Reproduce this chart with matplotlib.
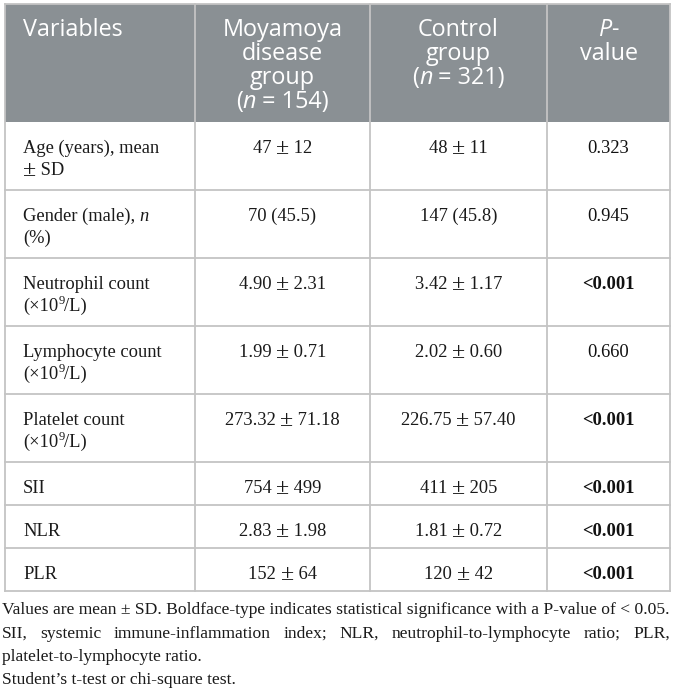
import re
import matplotlib
matplotlib.use("Agg")
import matplotlib.pyplot as plt

# table content
headers = ["Variables", "Moyamoya\ndisease\ngroup\n(<i>n</i> = 154)",
           "Control\ngroup\n(<i>n</i> = 321)", "<i>P</i>-\nvalue"]
variables = ["Age (years), mean\n± SD", "Gender (male), <i>n</i>\n(%)",
             "Neutrophil count\n(×10<sup>9</sup>/L)", "Lymphocyte count\n(×10<sup>9</sup>/L)",
             "Platelet count\n(×10<sup>9</sup>/L)", "SII", "NLR", "PLR"]
moyamoya = ["47 ± 12", "70 (45.5)", "4.90 ± 2.31", "1.99 ± 0.71",
            "273.32 ± 71.18", "754 ± 499", "2.83 ± 1.98", "152 ± 64"]
control = ["48 ± 11", "147 (45.8)", "3.42 ± 1.17", "2.02 ± 0.60",
           "226.75 ± 57.40", "411 ± 205", "1.81 ± 0.72", "120 ± 42"]
p_values = ["0.323", "0.945", "<0.001", "0.660", "<0.001", "<0.001", "<0.001", "<0.001"]
notes = ["Values are mean ± SD. Boldface-type indicates statistical significance with a P-value of < 0.05.",
         "SII, systemic immune-inflammation index; NLR, neutrophil-to-lymphocyte ratio; PLR, platelet-to-lymphocyte ratio.",
         "Student’s t-test or chi-square test."]

W, H = 674, 698
fig = plt.figure(figsize=(W / 100, H / 100), dpi=100)
ax = fig.add_axes([0, 0, 1, 1])
ax.set_xlim(0, W)
ax.set_ylim(H, 0)
ax.axis("off")
renderer = fig.canvas.get_renderer()

HEAD_FONT = "Open Sans"
BODY_FONT = "Liberation Serif"
HEAD_SIZE = 16.8
BODY_SIZE = 13.3
NOTE_SIZE = 12.6
HEAD_BG = "#8a9094"
GRID = "#c4c4c4"

col_x = [5, 195, 370, 547, 670]
top = 4
head_h = 118


def style_kw(family, size, style):
    kw = dict(family=family, fontsize=size)
    if "i" in style:
        kw["style"] = "italic"
    if "b" in style:
        kw["weight"] = "bold"
    if "sup" in style:
        kw["fontsize"] = size * 0.68
    if "pm" in style:
        kw["fontsize"] = size * 1.3
    return kw


def parse(line, bold=False):
    runs = []
    for part in re.split(r"(<i>.*?</i>|<sup>.*?</sup>|<pm>.*?</pm>)", line):
        if not part:
            continue
        m = re.match(r"<(i|sup|pm)>(.*?)</\1>", part)
        st = m.group(1) if m else ""
        txt = m.group(2) if m else part
        if bold:
            st += "b"
        runs.append((txt, st))
    return runs


def width(s, kw):
    t = ax.text(0, 0, "x" + s + "x", **kw)
    w1 = t.get_window_extent(renderer).width
    t.remove()
    t = ax.text(0, 0, "xx", **kw)
    w2 = t.get_window_extent(renderer).width
    t.remove()
    return w1 - w2


def draw_line(line, x, y, family, size, color, align="left", bold=False):
    # the plus-minus sign is set larger in the source (math font)
    if family == BODY_FONT:
        line = line.replace("±", "<pm>±</pm>")
    runs = parse(line, bold)
    widths = [width(txt, style_kw(family, size, st)) for txt, st in runs]
    total = sum(widths)
    if align == "center":
        x = x - total / 2
    for (txt, st), w in zip(runs, widths):
        kw = style_kw(family, size, st)
        yy = y - size * 0.55 if "sup" in st else y
        if "pm" in st:
            yy = y + size * 0.08
        ax.text(x, yy, txt, color=color, va="baseline", ha="left", **kw)
        x += w


# header
ax.add_patch(plt.Rectangle((col_x[0], top), col_x[-1] - col_x[0], head_h,
                           facecolor=HEAD_BG, edgecolor="none", zorder=0))
for j, h in enumerate(headers):
    for k, line in enumerate(h.split("\n")):
        y = top + 32 + 24 * k
        if j == 0:
            draw_line(line, col_x[0] + 18, y, HEAD_FONT, HEAD_SIZE, "white")
        else:
            draw_line(line, (col_x[j] + col_x[j + 1]) / 2, y, HEAD_FONT, HEAD_SIZE,
                      "white", align="center")

# body rows
y0 = top + head_h
row_lines = [y0]
for i, var in enumerate(variables):
    nlines = len(var.split("\n"))
    rh = 43 + 25 * (nlines - 1)
    base = y0 + 31
    for k, line in enumerate(var.split("\n")):
        draw_line(line, col_x[0] + 18, base + 22 * k, BODY_FONT, BODY_SIZE, "#1a1a1a")
    for j, val in enumerate([moyamoya[i], control[i]]):
        draw_line(val, (col_x[j + 1] + col_x[j + 2]) / 2, base, BODY_FONT, BODY_SIZE,
                  "#1a1a1a", align="center")
    p = p_values[i]
    sig = p.startswith("<") or float(p) < 0.05
    draw_line(p, (col_x[3] + col_x[4]) / 2, base, BODY_FONT, BODY_SIZE, "#111111",
              align="center", bold=sig)
    y0 += rh
    row_lines.append(y0)

# grid lines
for y in row_lines[1:]:
    ax.plot([col_x[0], col_x[-1]], [y, y], color=GRID, lw=1.3, zorder=3)
for x in col_x:
    ax.plot([x, x], [top, row_lines[-1]], color=GRID, lw=1.3, zorder=3)
ax.plot([col_x[0], col_x[-1]], [top, top], color=GRID, lw=1.3, zorder=3)

# footnotes, justified like the source
note_kw = dict(family=BODY_FONT, fontsize=NOTE_SIZE)
left, right = 2, 670
y = row_lines[-1] + 23
for para in notes:
    words = para.split(" ")
    lines, cur = [], []
    for wd in words:
        trial = cur + [wd]
        if cur and width(" ".join(trial), note_kw) > right - left:
            lines.append(cur)
            cur = [wd]
        else:
            cur = trial
    lines.append(cur)
    for li, ln in enumerate(lines):
        if li < len(lines) - 1 and len(ln) > 1:
            ws = [width(wd, note_kw) for wd in ln]
            gap = (right - left - sum(ws)) / (len(ln) - 1)
            x = left
            for wd, w in zip(ln, ws):
                ax.text(x, y, wd, va="baseline", color="#1a1a1a", **note_kw)
                x += w + gap
        else:
            ax.text(left, y, " ".join(ln), va="baseline", color="#1a1a1a", **note_kw)
        y += 23.5

fig.savefig("out.png", dpi=100)
